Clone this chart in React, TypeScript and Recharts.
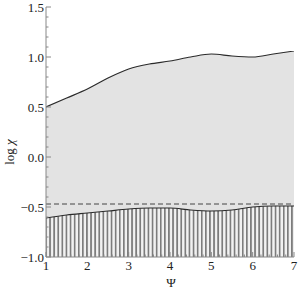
import React from "react";
import { ComposedChart, Area, XAxis, YAxis, ReferenceLine } from "recharts";

const psi = [1, 1.5, 2, 2.5, 3, 3.5, 4, 4.5, 5, 5.5, 6, 6.5, 7];
const upper = [0.5, 0.59, 0.68, 0.79, 0.88, 0.93, 0.96, 1.0, 1.03, 1.01, 1.0, 1.03, 1.06];
const lower = [-0.61, -0.58, -0.56, -0.54, -0.52, -0.51, -0.51, -0.53, -0.54, -0.53, -0.5, -0.49, -0.49];
const dashedLevel = -0.47;

const xTicks = [1, 1.2, 1.4, 1.6, 1.8, 2, 2.2, 2.4, 2.6, 2.8, 3, 3.2, 3.4, 3.6, 3.8, 4, 4.2, 4.4, 4.6, 4.8, 5, 5.2, 5.4, 5.6, 5.8, 6, 6.2, 6.4, 6.6, 6.8, 7];
const yTicks = [-1, -0.9, -0.8, -0.7, -0.6, -0.5, -0.4, -0.3, -0.2, -0.1, 0, 0.1, 0.2, 0.3, 0.4, 0.5, 0.6, 0.7, 0.8, 0.9, 1, 1.1, 1.2, 1.3, 1.4, 1.5];

const data = psi.map((p, i) => ({
  psi: p,
  hatch: [-1, lower[i]],
  band: [lower[i], upper[i]],
}));

const FONT = "Liberation Serif";
const txt = { fontFamily: FONT, fontSize: 13 };
const FRAME = "#888";

const isMajor = (v: number, step: number) => Math.abs(v / step - Math.round(v / step)) < 1e-6;

function BottomTick({ x, y, payload }: any) {
  const major = isMajor(payload.value, 1);
  return (
    <g>
      <line x1={x} y1={y} x2={x} y2={y - (major ? 5 : 2.5)} stroke={FRAME} />
      {major && (
        <text x={x} y={y + 13} textAnchor="middle" style={txt} fill="#222">
          {payload.value}
        </text>
      )}
    </g>
  );
}

function TopTick({ x, y, payload }: any) {
  const major = isMajor(payload.value, 1);
  return <line x1={x} y1={y} x2={x} y2={y + (major ? 5 : 2.5)} stroke={FRAME} />;
}

function LeftTick({ x, y, payload }: any) {
  const major = isMajor(payload.value, 0.5);
  const v = payload.value;
  const label = (v < 0 ? "\u2212" : "") + Math.abs(v).toFixed(1);
  return (
    <g>
      <line x1={x} y1={y} x2={x + (major ? 5 : 2.5)} y2={y} stroke={FRAME} />
      {major && (
        <text x={x - 2} y={y + 4.5} textAnchor="end" style={txt} fill="#222">
          {label}
        </text>
      )}
    </g>
  );
}

function RightTick({ x, y, payload }: any) {
  const major = isMajor(payload.value, 0.5);
  return <line x1={x} y1={y} x2={x - (major ? 5 : 2.5)} y2={y} stroke={FRAME} />;
}

export default function App() {
  return (
    <div style={{ position: "absolute", left: 0, top: 0, width: 298, height: 291, background: "#fff" }}>
      <ComposedChart width={298} height={291} data={data} margin={{ top: 7, right: 4, bottom: 0, left: 0 }}>
        <defs>
          <pattern id="hatch" width="4.1" height="8" patternUnits="userSpaceOnUse">
            <rect width="4.1" height="8" fill="#f2f2f2" />
            <rect x="0" width="1.7" height="8" fill="#7c7c7c" />
          </pattern>
        </defs>
        <XAxis
          xAxisId={0}
          dataKey="psi"
          type="number"
          domain={[1, 7]}
          ticks={xTicks}
          interval={0}
          allowDataOverflow
          height={34}
          tickSize={0}
          tickMargin={0}
          tickLine={false}
          axisLine={{ stroke: FRAME }}
          tick={<BottomTick />}
        />
        <XAxis
          xAxisId="top"
          orientation="top"
          dataKey="psi"
          type="number"
          domain={[1, 7]}
          ticks={xTicks}
          interval={0}
          allowDataOverflow
          height={0}
          tickSize={0}
          tickMargin={0}
          tickLine={false}
          axisLine={{ stroke: FRAME }}
          tick={<TopTick />}
        />
        <YAxis
          yAxisId={0}
          type="number"
          domain={[-1, 1.5]}
          ticks={yTicks}
          interval={0}
          allowDataOverflow
          width={46}
          tickSize={0}
          tickMargin={0}
          tickLine={false}
          axisLine={{ stroke: FRAME }}
          tick={<LeftTick />}
        />
        <YAxis
          yAxisId="right"
          orientation="right"
          type="number"
          domain={[-1, 1.5]}
          ticks={yTicks}
          interval={0}
          allowDataOverflow
          width={0}
          tickSize={0}
          tickMargin={0}
          tickLine={false}
          axisLine={{ stroke: FRAME }}
          tick={<RightTick />}
        />
        <Area
          dataKey="hatch"
          type="monotone"
          fill="url(#hatch)"
          fillOpacity={1}
          stroke="none"
          isAnimationActive={false}
        />
        <Area
          dataKey="band"
          type="monotone"
          fill="#e3e3e3"
          fillOpacity={1}
          stroke="#2a2a2a"
          strokeWidth={1.2}
          isAnimationActive={false}
        />
        <ReferenceLine y={dashedLevel} stroke="#444" strokeDasharray="5 3" strokeWidth={1} />
        <text x={14} y={152} transform="rotate(-90 14 152)" textAnchor="middle" style={txt} fill="#222">
          log <tspan fontStyle="italic">χ</tspan>
        </text>
        <text x={171} y={287} textAnchor="middle" style={txt} fill="#222">
          Ψ
        </text>
      </ComposedChart>
    </div>
  );
}
